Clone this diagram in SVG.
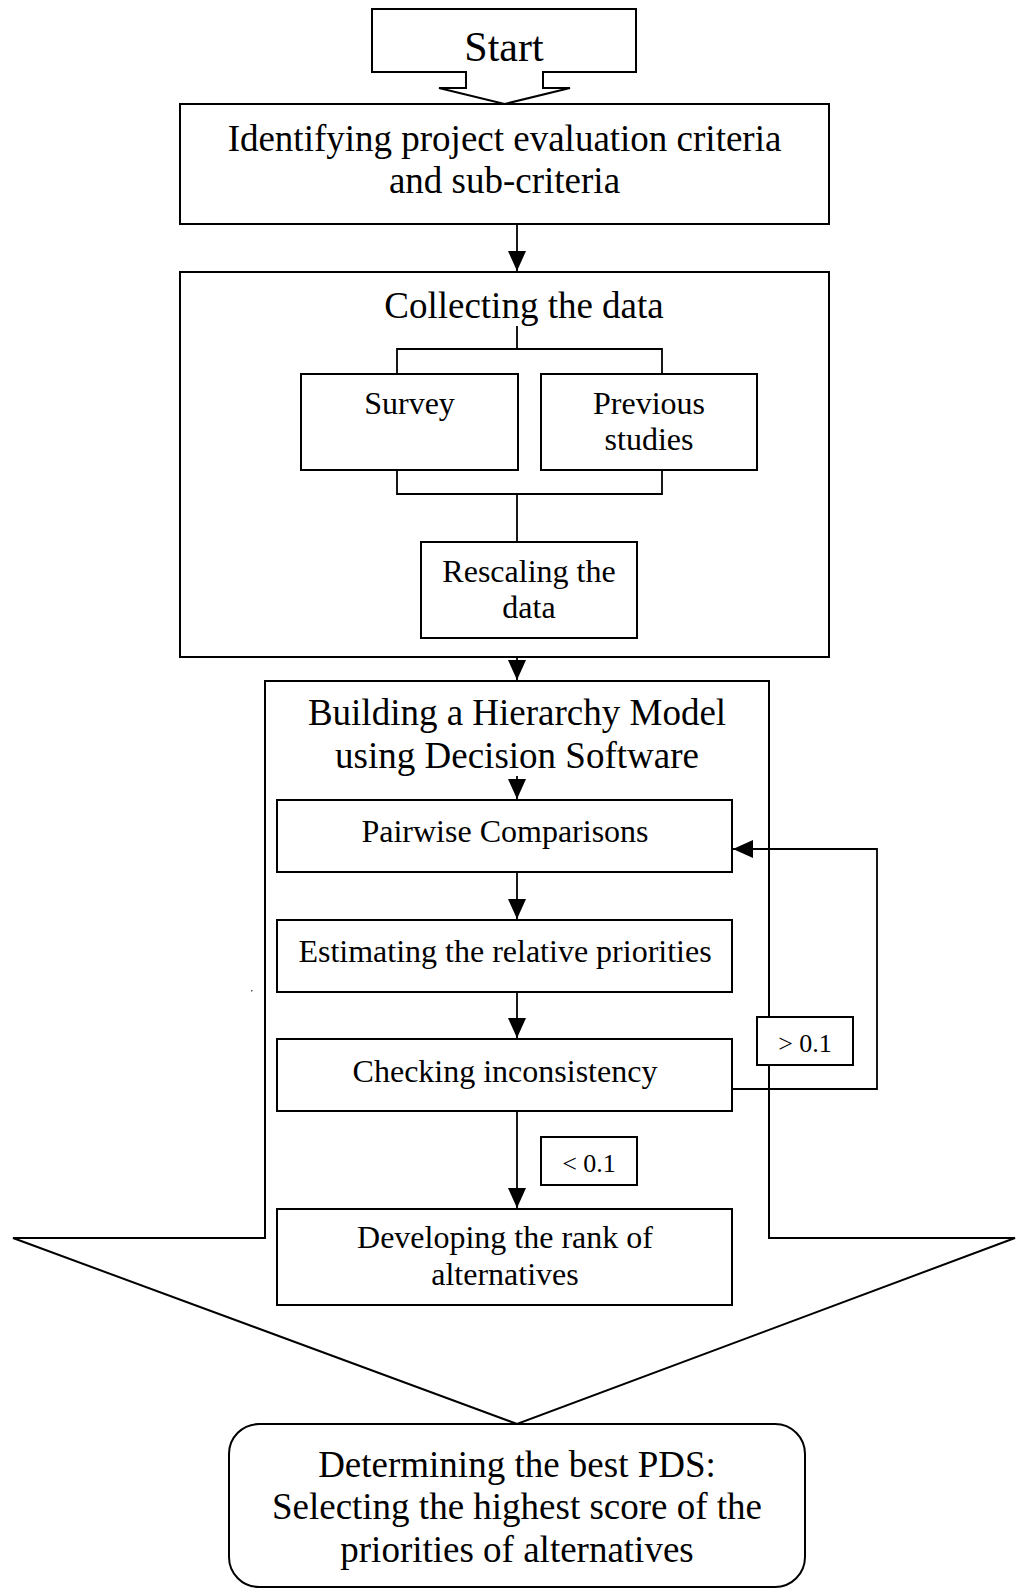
<svg xmlns="http://www.w3.org/2000/svg" width="1016" height="1589" viewBox="0 0 1016 1589">
<style>
.box{fill:#fff;stroke:#000;stroke-width:2}
.ln{fill:none;stroke:#000;stroke-width:1.8}
.t{font-family:"Liberation Serif","Times New Roman",serif;fill:#000;text-anchor:middle}
.t37{font-size:37px}
.t32{font-size:32px}
.t26{font-size:26px}
</style>
<defs>
<marker id="ah" viewBox="0 0 20 20" refX="20" refY="10" markerWidth="20" markerHeight="20" markerUnits="userSpaceOnUse" orient="auto">
<path d="M0,1 L20,10 L0,19 Z" fill="#000"/>
</marker>
</defs>
<rect x="0" y="0" width="1016" height="1589" fill="#fff"/>

<g id="building-arrow">
<polygon class="box" points="265,681 769,681 769,1238 1015,1238 517,1424 13,1238 265,1238"/>
<text class="t t37" x="517" y="725">Building a Hierarchy Model</text>
<text class="t t37" x="517" y="768">using Decision Software</text>
</g>

<g id="start">
<polygon class="box" points="372,9 636,9 636,72 543,72 543,88 570,88 504.5,104 439,88 466,88 466,72 372,72"/>
<text class="t" x="504" y="61" font-size="42">Start</text>
</g>

<g id="identifying">
<rect class="box" x="180" y="104" width="649" height="120"/>
<text class="t t37" x="504.5" y="151">Identifying project evaluation criteria</text>
<text class="t t37" x="504.5" y="193">and sub-criteria</text>
</g>

<g id="collecting">
<rect class="box" x="180" y="272" width="649" height="385"/>
<text class="t t37" x="524" y="318">Collecting the data</text>
</g>

<g id="survey">
<rect class="box" x="301" y="374" width="217" height="96"/>
<text class="t t32" x="409.5" y="414">Survey</text>
</g>

<g id="previous">
<rect class="box" x="541" y="374" width="216" height="96"/>
<text class="t t32" x="649" y="414">Previous</text>
<text class="t t32" x="649" y="450">studies</text>
</g>

<g id="rescaling">
<rect class="box" x="421" y="542" width="216" height="96"/>
<text class="t t32" x="529" y="582">Rescaling the</text>
<text class="t t32" x="529" y="618">data</text>
</g>

<g id="pairwise">
<rect class="box" x="277" y="800" width="455" height="72"/>
<text class="t t32" x="505" y="842">Pairwise Comparisons</text>
</g>

<g id="estimating">
<rect class="box" x="277" y="920" width="455" height="72"/>
<text class="t t32" x="505" y="962">Estimating the relative priorities</text>
</g>

<g id="checking">
<rect class="box" x="277" y="1039" width="455" height="72"/>
<text class="t t32" x="505" y="1082">Checking inconsistency</text>
</g>

<g id="developing">
<rect class="box" x="277" y="1209" width="455" height="96"/>
<text class="t t32" x="505" y="1248">Developing the rank of</text>
<text class="t t32" x="505" y="1285">alternatives</text>
</g>

<g id="connectors">
<path class="ln" d="M517,224 V271" marker-end="url(#ah)"/>
<path class="ln" d="M517,326 V349"/>
<path class="ln" d="M397,374 V349 H662 V374"/>
<path class="ln" d="M397,470 V494 H662 V470"/>
<path class="ln" d="M517,494 V542"/>
<path class="ln" d="M517,657 V680" marker-end="url(#ah)"/>
<path class="ln" d="M517,776 V799" marker-end="url(#ah)"/>
<path class="ln" d="M517,872 V919" marker-end="url(#ah)"/>
<path class="ln" d="M517,992 V1038" marker-end="url(#ah)"/>
<path class="ln" d="M517,1111 V1208" marker-end="url(#ah)"/>
<path class="ln" d="M732,1089 H877 V849 H733" marker-end="url(#ah)"/>
</g>

<g id="label-gt">
<rect class="box" x="757" y="1017" width="96" height="48"/>
<text class="t t26" x="805" y="1052">&gt; 0.1</text>
</g>

<g id="label-lt">
<rect class="box" x="541" y="1137" width="96" height="48"/>
<text class="t t26" x="589" y="1172">&lt; 0.1</text>
</g>

<g id="final">
<rect class="box" x="229" y="1424" width="576" height="163" rx="30" ry="30"/>
<text class="t t37" x="517" y="1477">Determining the best PDS:</text>
<text class="t t37" x="517" y="1519">Selecting the highest score of the</text>
<text class="t t37" x="517" y="1562">priorities of alternatives</text>
</g>

<rect x="251" y="990" width="1.5" height="1.5" fill="#555"/>
</svg>
